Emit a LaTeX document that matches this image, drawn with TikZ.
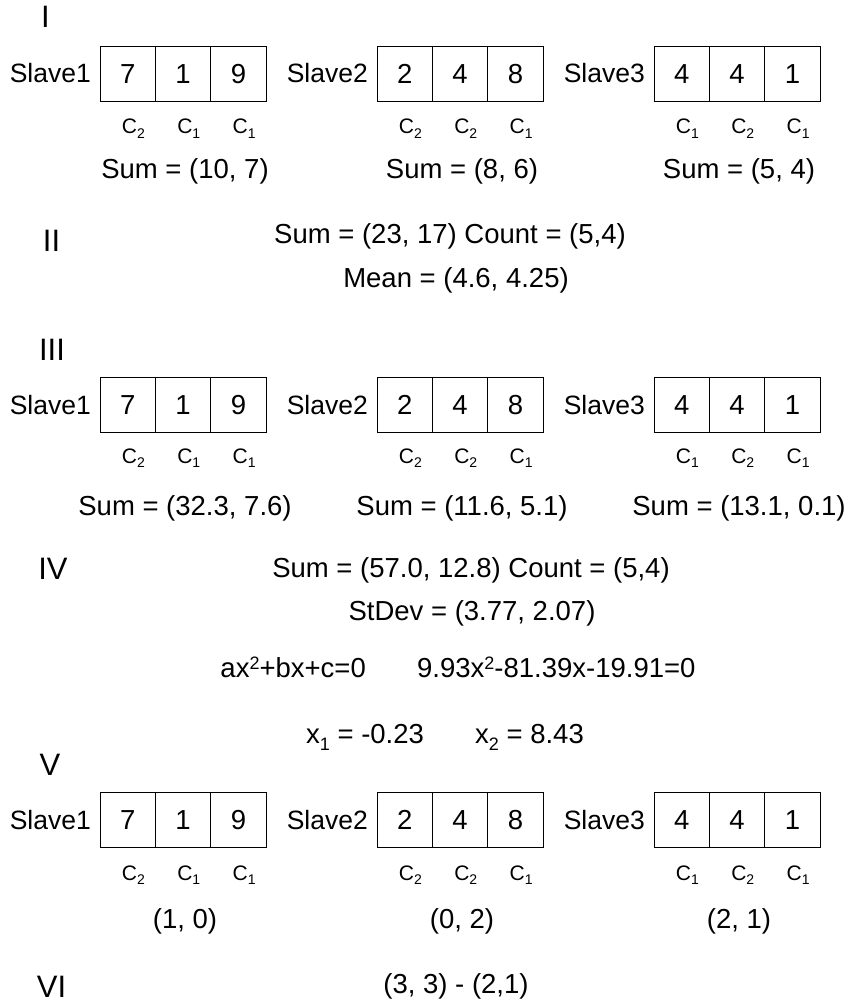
\documentclass[tikz,border=0pt]{standalone}
\usepackage{fontspec}
\setmainfont{Liberation Sans}
\newcommand\csub[1]{\raisebox{-4.5pt}{\fontsize{14}{14}\selectfont #1}}
\newcommand\lowsub[1]{\raisebox{-7pt}{\fontsize{18}{18}\selectfont #1}}
\newcommand\hisup[1]{\raisebox{8pt}{\fontsize{18}{18}\selectfont #1}}
\tikzset{
  cell/.style={draw, line width=0.8pt, minimum width=55.4pt, minimum height=55pt, inner sep=0pt, text height=19.7pt, text depth=0pt, font=\fontsize{27.5}{27.5}\selectfont, anchor=center},
  slavelab/.style={anchor=east, inner sep=0pt, text height=19pt, text depth=0pt, font=\fontsize{26.5}{26.5}\selectfont},
  clab/.style={anchor=base west, inner sep=0pt, font=\fontsize{21}{21}\selectfont},
  txt/.style={inner sep=0pt, font=\fontsize{27.5}{27.5}\selectfont},
  roman/.style={inner sep=0pt, anchor=base, font=\fontsize{31}{31}\selectfont},
}
\begin{document}
\begin{tikzpicture}[x=1pt,y=-1pt]
\useasboundingbox[fill=white] (0,0) rectangle (849,1006);
% section numerals
\node[roman] (n1) at (45.5,28) {I};
\node[roman] (n2) at (51.5,251) {II};
\node[roman] (n3) at (52,360) {III};
\node[roman] (n4) at (53,579) {IV};
\node[roman] (n5) at (50,775) {V};
\node[roman] (n6) at (51.5,997) {VI};
% slave rows
\foreach \rw/\T/\cbase/\sbase/\sa/\sb/\sc in {
  1/46/134/178/{Sum = (10, 7)}/{Sum = (8, 6)}/{Sum = (5, 4)},
  2/377/463/515/{Sum = (32.3, 7.6)}/{Sum = (11.6, 5.1)}/{Sum = (13.1, 0.1)},
  3/792/880/928/{(1, 0)}/{(0, 2)}/{(2, 1)}}
{
  \foreach \s/\L/\lab/\va/\vb/\vc/\ka/\kb/\kc/\sm in {
    1/100/Slave1/7/1/9/2/1/1/\sa,
    2/377/Slave2/2/4/8/2/2/1/\sb,
    3/654/Slave3/4/4/1/1/2/1/\sc}
  {
    \node[slavelab] (r\rw-s\s-lab) at (\L-9,\T+27.5) {\lab};
    \node[cell] (r\rw-s\s-c1) at (\L+27.7,\T+27.5) {\va};
    \node[cell] (r\rw-s\s-c2) at (\L+83.1,\T+27.5) {\vb};
    \node[cell] (r\rw-s\s-c3) at (\L+138.5,\T+27.5) {\vc};
    \node[clab] (r\rw-s\s-k1) at (\L+21.7,\cbase) {C\csub{\ka}};
    \node[clab] (r\rw-s\s-k2) at (\L+77.1,\cbase) {C\csub{\kb}};
    \node[clab] (r\rw-s\s-k3) at (\L+132.5,\cbase) {C\csub{\kc}};
    \node[txt, anchor=base] (r\rw-s\s-sum) at (\L+85,\sbase) {\sm};
  }
}
% section II
\node[txt, anchor=base] (sum2) at (450,243) {Sum = (23, 17) Count = (5,4)};
\node[txt, anchor=base] (mean2) at (456,287) {Mean = (4.6, 4.25)};
% section IV
\node[txt, anchor=base] (sum4) at (471,577) {Sum = (57.0, 12.8) Count = (5,4)};
\node[txt, anchor=base] (stdev4) at (472,620) {StDev = (3.77, 2.07)};
\node[txt, anchor=base east] (eqgen) at (366,677) {ax\hisup{2}+bx+c=0};
\node[txt, anchor=base west] (eqnum) at (417,677) {9.93x\hisup{2}-81.39x-19.91=0};
\node[txt, anchor=base west] (root1) at (306,743) {x\lowsub{1} = -0.23};
\node[txt, anchor=base west] (root2) at (475,743) {x\lowsub{2} = 8.43};
% section VI
\node[txt, anchor=base] (diff6) at (456,993) {(3, 3) - (2,1)};
\end{tikzpicture}
\end{document}
